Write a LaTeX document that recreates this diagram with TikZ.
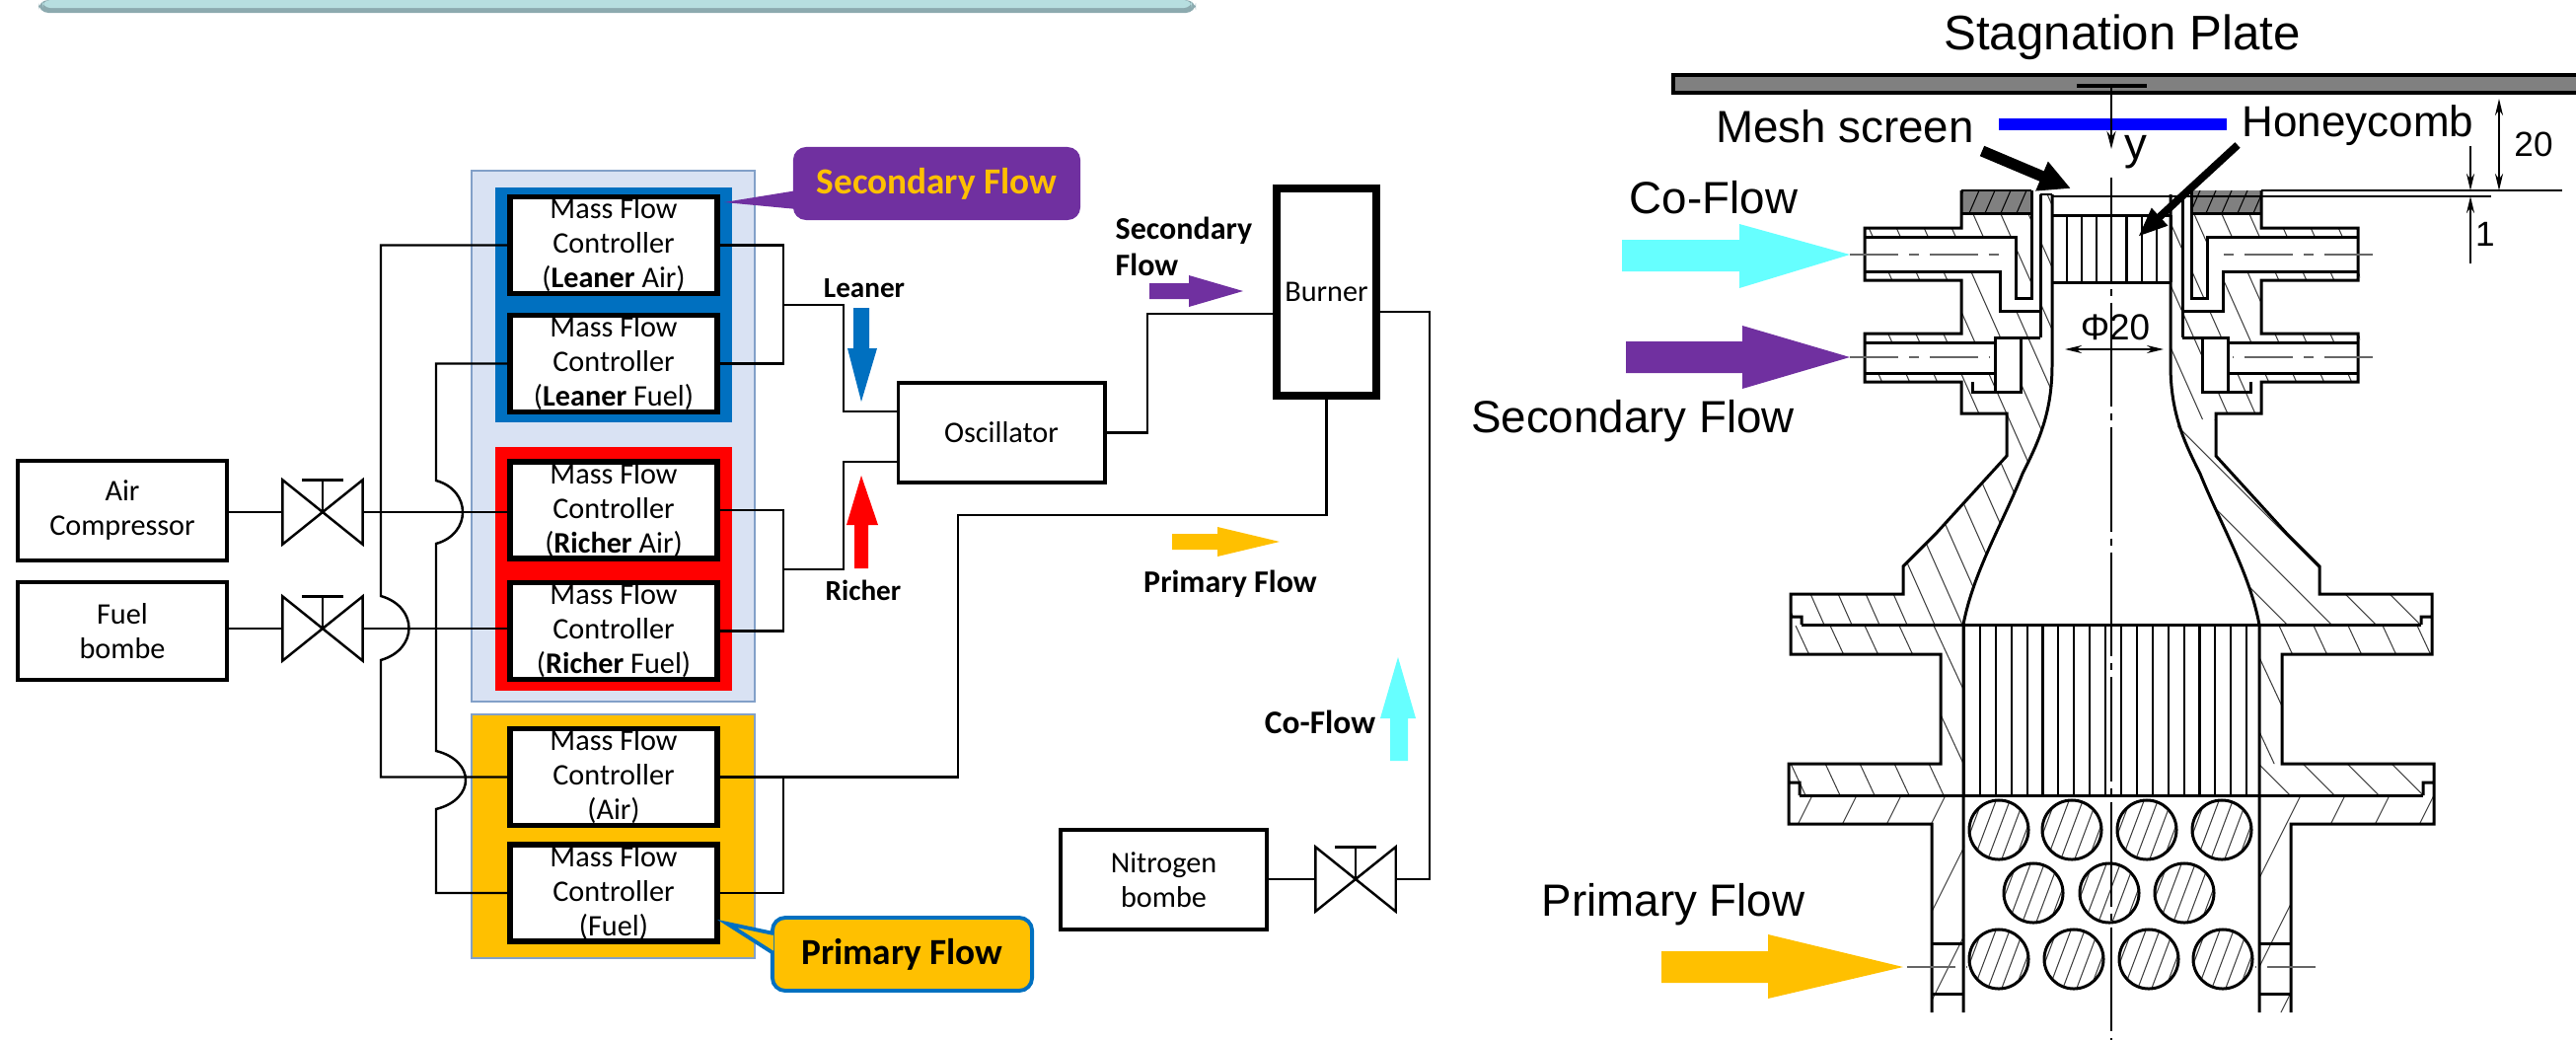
\documentclass[tikz,border=0pt]{standalone}
\usepackage{fontspec}
\setmainfont{Carlito}
\newfontfamily\drawfont{Liberation Sans}
\usepackage{amsmath,amssymb}
\usetikzlibrary{shapes,arrows.meta,positioning,calc}
\usepackage{xcolor}

\definecolor{flowpurple}{RGB}{112,48,160}
\definecolor{flowgold}{RGB}{255,192,0}
\definecolor{flowblue}{RGB}{0,112,192}
\definecolor{flowcyan}{RGB}{102,255,255}
\definecolor{framepale}{RGB}{217,226,243}
\definecolor{frameedge}{RGB}{130,160,200}
\definecolor{bannerfill}{RGB}{183,222,224}
\definecolor{banneredge}{RGB}{140,170,175}

\tikzset{
  wire/.style={line width=0.7pt, black},
  boxbase/.style={draw, fill=white, inner sep=0pt, align=center, font=\fontsize{8.6}{9.96}\selectfont},
  mfc/.style={boxbase, line width=1.5pt, minimum width=2.10cm, minimum height=0.98cm},
  srcbox/.style={boxbase, line width=1.1pt},
  frame/.style={inner sep=0pt, minimum width=#1},
  valvebox/.style={inner sep=0pt, minimum width=0.80cm, minimum height=0.64cm},
  tag/.style={font=\fontsize{8.3}{10.5}\selectfont\bfseries, inner sep=0pt},
  widetag/.style={font=\fontsize{9.1}{10.5}\selectfont\bfseries, inner sep=0pt},
  outline/.style={line width=0.85pt, black},
  hatchline/.style={line width=0.3pt, black!75},
  axisline/.style={line width=0.3pt, black, dash pattern=on 30pt off 2pt on 2pt off 2pt},
  portaxis/.style={line width=0.6pt, black!60, dash pattern=on 14pt off 3pt on 3pt off 3pt},
  cutlabel/.style={font=\drawfont\fontsize{13}{15}\selectfont, inner sep=0pt},
  dim/.style={line width=0.6pt, {Stealth[length=0.17cm,width=0.08cm]}-{Stealth[length=0.17cm,width=0.08cm]}},
}

\newcommand{\valve}[3]{%
  \node[valvebox] (#1) at (#2,#3) {};
  \draw[wire] (#1.north west) -- (#1.south east) -- (#1.north east) -- (#1.south west) -- cycle;
  \draw[wire] (#1.center) -- (#1.north);
  \draw[wire] ($(#1.north)+(-21,0)$) -- ($(#1.north)+(21,0)$);
}

\begin{document}
\begin{tikzpicture}[x=0.01cm, y=-0.01cm]
  \useasboundingbox (0,0) rectangle (2611,1054);

  % Banner
  \fill[banneredge, rounded corners=0.1cm] (39,0) -- (39,13) -- (1212,13) -- (1212,0) -- cycle;
  \fill[bannerfill, rounded corners=0.08cm] (43,0) -- (43,8) -- (1208,8) -- (1208,0) -- cycle;

  % Frames
  \node[frame=2.87cm, minimum height=5.38cm, fill=framepale, draw=frameedge] (leanrich) at (621.5,442) {};
  \node[frame=2.40cm, minimum height=2.38cm, fill=flowblue] (leanerframe) at (622,309) {};
  \node[frame=2.40cm, minimum height=2.47cm, fill=red] (richerframe) at (622,576.5) {};
  \node[frame=2.87cm, minimum height=2.47cm, fill=flowgold, draw=frameedge] (primaryframe) at (621.5,847.5) {};

  % Mass flow controllers
  \node[mfc] (mfcla) at (622,248.5) {Mass Flow\\Controller\\(\textbf{Leaner} Air)};
  \node[mfc] (mfclf) at (622,368.5) {Mass Flow\\Controller\\(\textbf{Leaner} Fuel)};
  \node[mfc] (mfcra) at (622,517) {Mass Flow\\Controller\\(\textbf{Richer} Air)};
  \node[mfc] (mfcrf) at (622,639.5) {Mass Flow\\Controller\\(\textbf{Richer} Fuel)};
  \node[mfc] (mfcpa) at (622,787.5) {Mass Flow\\Controller\\(Air)};
  \node[mfc] (mfcpf) at (622,905) {Mass Flow\\Controller\\(Fuel)};

  % Sources and burner
  \node[srcbox, minimum width=2.12cm, minimum height=1.01cm] (air) at (124,517.5) {Air\\Compressor};
  \node[srcbox, minimum width=2.12cm, minimum height=0.99cm] (fuel) at (124,639.5) {Fuel\\bombe};
  \node[srcbox, minimum width=2.09cm, minimum height=1.01cm] (nitrogen) at (1179.5,891.5) {Nitrogen\\bombe};
  \node[srcbox, minimum width=2.09cm, minimum height=1.01cm] (osc) at (1015,438.5) {Oscillator};
  \node[boxbase, line width=2.1pt, minimum width=1.01cm, minimum height=2.10cm] (burner) at (1344.5,296) {Burner};

  \valve{vair}{327}{519}
  \valve{vfuel}{327}{637}
  \valve{vnit}{1374}{891}

  % Connectors
  \draw[wire] (air.east |- vair) -- (vair.west);
  \draw[wire] (fuel.east |- vfuel) -- (vfuel.west);
  \draw[wire] (nitrogen.east |- vnit) -- (vnit.west);
  \draw[wire] (vair.east) -- (mfcra.west |- vair);
  \draw[wire] (vfuel.east) -- (mfcrf.west |- vfuel);
  \draw[wire] (mfcla.west) -| (386,604) .. controls (424,615) and (424,658) .. (386,669) |- (mfcpa.west);
  \draw[wire] (mfclf.west) -| (442,487) .. controls (478,497) and (478,541) .. (442,551) -- (442,761)
     .. controls (482,771) and (482,810) .. (442,820) |- (mfcpf.west);
  \draw[wire] (mfcla.east) -| (794,309) |- (mfclf.east);
  \draw[wire] (794,309) -| (855,417) -- (osc.west |- 855,417);
  \draw[wire] (mfcra.east) -| (794,577) |- (mfcrf.east);
  \draw[wire] (794,577) -| (855,468) -- (osc.west |- 855,468);
  \draw[wire] (osc.east) -| (1163,318) -- (burner.west |- 1163,318);
  \draw[wire] (burner.south) |- (971,522) |- (mfcpa.east);
  \draw[wire] (mfcpa.east) -| (794,846) |- (mfcpf.east);
  \draw[wire] (burner.east |- 0,316) -| (1449,891) -- (vnit.east);

  % Callouts
  \node[fill=flowpurple, rounded corners=0.13cm, minimum width=2.91cm, minimum height=0.74cm, inner sep=0pt,
        text=flowgold, font=\fontsize{10.6}{13}\selectfont\bfseries] (secondarytag) at (949.5,186) {Secondary Flow};
  \fill[flowpurple] (808,193) -- (734,205) -- (808,212) -- cycle;
  \node[fill=flowgold, draw=flowblue, line width=1.1pt, rounded corners=0.13cm, minimum width=2.63cm, minimum height=0.74cm, inner sep=0pt,
        font=\fontsize{10.6}{13}\selectfont\bfseries] (primarytag) at (914.5,967) {Primary Flow};
  \filldraw[fill=flowgold, draw=flowblue, line width=1.1pt] (784,946) -- (737,936) -- (784,966);

  % Flow labels and arrows
  \node[tag] (leanerlabel) at (876,292) {Leaner};
  \fill[flowblue] (865,312) -- (881,312) -- (881,353) -- (889,353) -- (873,407) -- (859,353) -- (865,353) -- cycle;
  \node[tag] (richerlabel) at (875,598) {Richer};
  \fill[red] (866,576) -- (880,576) -- (880,532) -- (890,532) -- (873,482) -- (858,532) -- (866,532) -- cycle;
  \node[widetag, align=left, anchor=west] (secondarylabel) at (1130,250) {Secondary\\Flow};
  \fill[flowpurple] (1165,287) -- (1205,287) -- (1205,279) -- (1260,295) -- (1205,311) -- (1205,303) -- (1165,303) -- cycle;
  \node[widetag] (primarylabel) at (1247,592) {Primary Flow};
  \fill[flowgold] (1188,541) -- (1234,541) -- (1234,534) -- (1297,549) -- (1234,564) -- (1234,557) -- (1188,557) -- cycle;
  \node[widetag, font=\fontsize{9.5}{10.5}\selectfont\bfseries] (coflowlabel) at (1338,732) {Co-Flow};
  \fill[flowcyan] (1409,771) -- (1427,771) -- (1427,728) -- (1435,728) -- (1417,666) -- (1399,728) -- (1409,728) -- cycle;

  % Burner cut-away: hatching
  \begin{scope}[shift={(2140,0)}]
    \fill[gray] (-152,193) rectangle (-81,216);
    \fill[gray] (83,193) rectangle (152,216);
    \begin{scope}
      \clip (-152,193) rectangle (-81,216) (83,193) rectangle (152,216);
      \foreach \hx in {-150,-134,...,160}
        \draw[hatchline, black] (\hx,193) -- ++(-10,23);
    \end{scope}
    \begin{scope}
      \clip (-152,216) -- (-152,231) -- (-250,231) -- (-250,240) -- (-97,240) -- (-97,302) -- (-81,302) -- (-81,216) -- cycle
            (-250,275) -- (-113,275) -- (-113,315) -- (-72,315) -- (-72,342) -- (-118,342) -- (-118,347) -- (-250,347) -- (-250,338) -- (-152,338) -- (-152,284) -- (-250,284) -- cycle
            (-250,378) -- (-118,378) -- (-118,397) -- (-92,397) -- (-92,342) -- (-72,342) -- (-72,197) -- (-60,197) -- (-60,370)
               .. controls (-60,420) and (-75,450) .. (-90,480) .. controls (-110,530) and (-140,580) .. (-149,633)
               -- (-314,633) -- (-314,625) -- (-325,625) -- (-325,602) -- (-211,602) -- (-211,574) -- (-178,541) -- (-106,462) -- (-106,419) -- (-152,419) -- (-152,387) -- (-250,387) -- cycle
            (152,216) -- (152,231) -- (252,231) -- (252,240) -- (97,240) -- (97,302) -- (81,302) -- (81,216) -- cycle
            (252,275) -- (113,275) -- (113,315) -- (72,315) -- (72,342) -- (118,342) -- (118,347) -- (252,347) -- (252,338) -- (152,338) -- (152,284) -- (252,284) -- cycle
            (252,378) -- (118,378) -- (118,397) -- (92,397) -- (92,342) -- (72,342) -- (72,197) -- (61,197) -- (61,370)
               -- (65,425) -- (106,425) -- (106,419) -- (152,419) -- (152,387) -- (252,387) -- cycle;
      \foreach \hx in {-600,-572,...,320}
        \draw[hatchline] (\hx,190) -- ++(200,450);
    \end{scope}
    % right nozzle wall runs at a flatter angle
    \begin{scope}
      \clip (65,425) .. controls (72,450) and (80,465) .. (90,480) .. controls (110,530) and (140,580) .. (150,633)
            -- (314,633) -- (314,625) -- (325,625) -- (325,602) -- (211,602) -- (211,574) -- (178,541) -- (106,462) -- (106,425) -- cycle;
      \foreach \hx in {-80,-35,...,300}
        \draw[hatchline] (\hx,420) -- ++(220,220);
    \end{scope}
    \begin{scope}
      \clip (-325,634) -- (-149,634) -- (-149,806) -- (-316,806) -- (-316,793) -- (-327,793) -- (-327,774) -- (-173,774) -- (-173,663) -- (-325,663) -- cycle
            (150,634) -- (325,634) -- (325,663) -- (173,663) -- (173,774) -- (150,774) -- cycle;
      \foreach \hx in {-460,-425,...,320}
        \draw[hatchline] (\hx,634) -- ++(80,172);
    \end{scope}
    \begin{scope}
      \clip (150,774) -- (328,774) -- (328,793) -- (316,793) -- (316,806) -- (150,806) -- cycle;
      \foreach \hx in {90,135,...,340}
        \draw[hatchline] (\hx,760) -- ++(50,50);
    \end{scope}
    \begin{scope}
      \clip (-327,806) -- (-149,806) -- (-149,1026) -- (-182,1026) -- (-182,835) -- (-327,835) -- cycle
            (150,806) -- (328,806) -- (328,835) -- (182,835) -- (182,1026) -- (150,1026) -- cycle;
      \foreach \hx in {-300,-255,...,520}
        \draw[hatchline] (\hx,800) -- ++(-120,240);
    \end{scope}

    % Honeycombs
    \foreach \hx in {-60,-44.9,...,62}
      \draw[line width=0.6pt] (\hx,218) -- (\hx,286);
    \foreach \hx in {-149,-133.1,...,151}
      \draw[line width=0.6pt] (\hx,633) -- (\hx,806);

    % Packed spheres
    \foreach \bx/\by in {-114/841,-40/841,36/841,112/841,-79/905,-2/905,74/905,-114/972,-38/972,38/972,113/972} {
      \begin{scope}
        \clip (\bx,\by) circle (0.30cm);
        \foreach \hx in {-42,-28,...,42}
          \draw[hatchline] ({\bx+\hx+12},{\by-32}) -- ({\bx+\hx-12},{\by+32});
      \end{scope}
      \draw[outline] (\bx,\by) circle (0.30cm);
    }

    % Outlines
    \draw[axisline] (0,180) -- (0,1054);
    \foreach \sx in {-1,1} {
      \draw[outline, xscale=\sx]
        (152,193) -- (152,231) -- (250,231) -- (250,284) -- (152,284) -- (152,338) -- (250,338) -- (250,387)
        -- (152,387) -- (152,419) -- (106,419) -- (106,462) -- (178,541) -- (211,574) -- (211,602) -- (325,602)
        -- (325,625) -- (314,625) -- (314,633) (325,625) -- (325,663) -- (173,663) -- (173,774) -- (327,774)
        -- (327,793) -- (316,793) -- (316,806) (327,793) -- (327,835) -- (182,835) -- (182,1026);
      \draw[outline, xscale=\sx] (250,240) -- (97,240) -- (97,302) -- (81,302) -- (81,193);
      \draw[outline, xscale=\sx] (250,275) -- (113,275) -- (113,315) -- (72,315);
      \draw[outline, xscale=\sx] (250,347) -- (118,347) -- (118,342) -- (72,342);
      \draw[outline, xscale=\sx] (250,378) -- (118,378);
      \draw[outline, fill=white, xscale=\sx] (118,342) rectangle (92,397);
      \draw[outline, xscale=\sx] (141,387) -- (141,397) -- (92,397);
      \draw[outline, xscale=\sx] (72,197) -- (72,342);
      \draw[outline, xscale=\sx] (60,197) -- (60,370) .. controls (60,420) and (75,450) .. (90,480)
        .. controls (110,530) and (140,580) .. (150,633) -- (150,1026);
      \draw[outline, xscale=\sx] (182,956) -- (150,956) (182,1007) -- (150,1007);
      \draw[portaxis, xscale=\sx] (265,258) -- (108,258);
      \draw[portaxis, xscale=\sx] (265,362) -- (123,362);
      \draw[portaxis, xscale=\sx] (207,980) -- (146,980);
    }
    \draw[outline] (-152,193) -- (-81,193) (-152,216) -- (-81,216) (81,216) -- (152,216);
    \draw[outline] (-60,218) -- (61,218) (-60,286) -- (61,286);
    \draw[outline] (-314,633.5) -- (314,633.5) (-316,806) -- (316,806);
    \draw[outline] (-72,197) -- (-60,197);
  \end{scope}

  % Stagnation plate
  \fill[gray, draw=black, line width=1.2pt] (1696,76) rectangle (2625,94);
  \draw[line width=1.4pt] (2105,87) -- (2176,87);
  \draw[line width=3.4pt, blue] (2026,126) -- (2257,126);
  \coordinate (ybar) at (2140,87);
  \coordinate (ytip) at (2140,151);
  \draw[line width=0.7pt, -{Stealth[length=0.18cm,width=0.09cm]}] (ybar) -- (ytip);
  \node[cutlabel, font=\drawfont\fontsize{14}{16}\selectfont] (plate) at (2151,38) {Stagnation Plate};
  \node[cutlabel] (ylabel) at (2165,154) {y};
  \node[cutlabel] (mesh) at (1870,128) {Mesh screen};
  \node[cutlabel, font=\drawfont\fontsize{12.5}{14}\selectfont] (honey) at (2390,127) {Honeycomb};
  \node[cutlabel] (coflow) at (1737,200) {Co-Flow};
  \node[cutlabel] (secondary) at (1655,427) {Secondary Flow};
  \node[cutlabel] (primary) at (1696,917) {Primary Flow};
  \node[cutlabel, font=\drawfont\fontsize{10.5}{12}\selectfont] (dia) at (2144,332) {Φ20};

  % Leaders and dimensions
  \coordinate (meshtail) at (2009,153);
  \coordinate (meshtip) at (2099,191);
  \coordinate (honeytail) at (2268,147);
  \coordinate (honeytip) at (2167,240);
  \draw[line width=3.2pt, -{Triangle[length=0.32cm,width=0.30cm]}] (meshtail) -- (meshtip);
  \draw[line width=2.2pt, -{Triangle[length=0.30cm,width=0.22cm]}] (honeytail) -- (honeytip);
  \coordinate (diaL) at (2093,354);
  \coordinate (diaR) at (2193,354);
  \draw[dim] (diaL) -- (diaR);
  \draw[line width=0.7pt] (2292,193) -- (2597,193);
  \draw[line width=0.7pt] (2079,199) -- (2525,199);
  \coordinate (twentya) at (2533,100);
  \coordinate (twentyb) at (2533,193);
  \draw[dim] (twentya) -- (twentyb);
  \node[cutlabel, font=\drawfont\fontsize{10}{12}\selectfont] (twenty) at (2568,146) {20};
  \coordinate (onea) at (2504,148);
  \coordinate (oneb) at (2504,193);
  \coordinate (onec) at (2504,267);
  \coordinate (oned) at (2504,199);
  \draw[line width=0.6pt, -{Stealth[length=0.17cm,width=0.08cm]}] (onea) -- (oneb);
  \draw[line width=0.6pt, -{Stealth[length=0.17cm,width=0.08cm]}] (onec) -- (oned);
  \node[cutlabel, font=\drawfont\fontsize{10}{12}\selectfont] (one) at (2519,237) {1};

  % Inlet arrows
  \fill[flowcyan] (1644,243) -- (1763,243) -- (1763,227) -- (1875,258) -- (1763,292) -- (1763,275) -- (1644,275) -- cycle;
  \fill[flowpurple] (1648,346) -- (1766,346) -- (1766,330) -- (1875,362) -- (1766,394) -- (1766,378) -- (1648,378) -- cycle;
  \fill[flowgold] (1684,964) -- (1792,964) -- (1792,947) -- (1929,980) -- (1792,1012) -- (1792,996) -- (1684,996) -- cycle;
\end{tikzpicture}
\end{document}
